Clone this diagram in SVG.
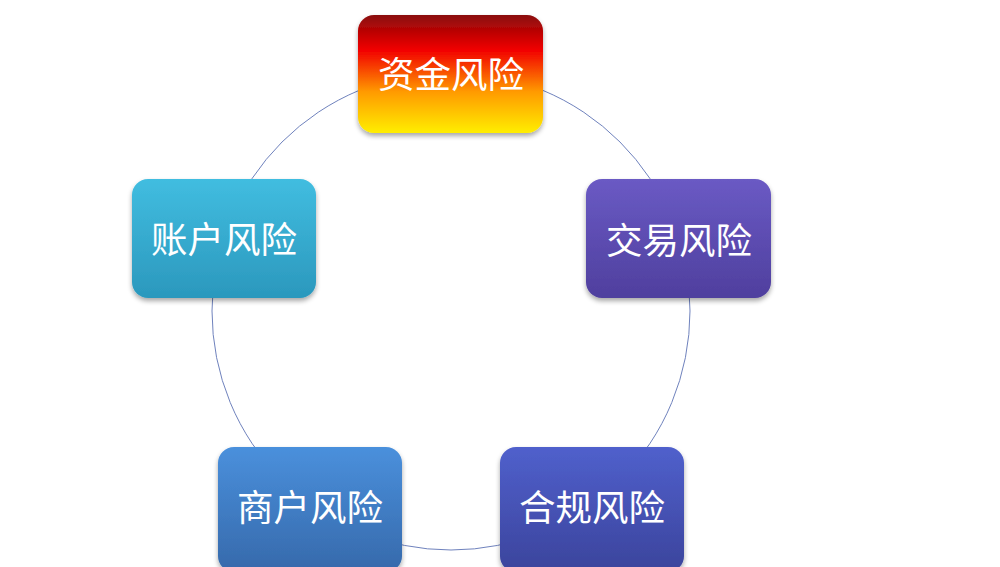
<svg xmlns="http://www.w3.org/2000/svg" width="1000" height="567" viewBox="0 0 1000 567">
<style>
.lbl{font-family:"Noto Sans CJK SC","Noto Sans CJK TC",sans-serif;font-size:36.5px;fill:#ffffff;text-anchor:middle;dominant-baseline:central}
.box{filter:url(#sh)}
</style>
<defs>
<filter id="sh" x="-10%" y="-10%" width="120%" height="130%">
<feGaussianBlur in="SourceAlpha" stdDeviation="2.5"/>
<feOffset dx="0" dy="3" result="b"/>
<feComponentTransfer><feFuncA type="linear" slope="0.35"/></feComponentTransfer>
<feMerge><feMergeNode/><feMergeNode in="SourceGraphic"/></feMerge>
</filter>
<linearGradient id="gTop" x1="0" y1="0" x2="0" y2="1">
<stop offset="0" stop-color="#8a0a0a"/>
<stop offset="0.3" stop-color="#f20000"/>
<stop offset="0.65" stop-color="#ff9a00"/>
<stop offset="1" stop-color="#ffee00"/>
</linearGradient>
<linearGradient id="gAcc" x1="0" y1="0" x2="0" y2="1">
<stop offset="0" stop-color="#41bde0"/>
<stop offset="1" stop-color="#2b98bd"/>
</linearGradient>
<linearGradient id="gTx" x1="0" y1="0" x2="0" y2="1">
<stop offset="0" stop-color="#6a5ac4"/>
<stop offset="1" stop-color="#4f3f9e"/>
</linearGradient>
<linearGradient id="gMer" x1="0" y1="0" x2="0" y2="1">
<stop offset="0" stop-color="#4a90dc"/>
<stop offset="1" stop-color="#3669ab"/>
</linearGradient>
<linearGradient id="gCmp" x1="0" y1="0" x2="0" y2="1">
<stop offset="0" stop-color="#5060cc"/>
<stop offset="1" stop-color="#3b449c"/>
</linearGradient>
</defs>
<rect width="1000" height="567" fill="#ffffff"/>
<g id="connectors">
<circle cx="451" cy="311" r="239" fill="none" stroke="#6f82bd" stroke-width="1"/>
</g>
<g id="node-funds">
<rect class="box" x="358" y="15" width="185" height="118" rx="16" fill="url(#gTop)"/>
<text class="lbl" x="451" y="72">资金风险</text>
</g>
<g id="node-transaction">
<rect class="box" x="586" y="179" width="185" height="119" rx="16" fill="url(#gTx)"/>
<text class="lbl" x="679" y="238">交易风险</text>
</g>
<g id="node-compliance">
<rect class="box" x="500" y="447" width="184" height="125" rx="16" fill="url(#gCmp)"/>
<text class="lbl" x="592" y="505">合规风险</text>
</g>
<g id="node-merchant">
<rect class="box" x="218" y="447" width="184" height="125" rx="16" fill="url(#gMer)"/>
<text class="lbl" x="310" y="505">商户风险</text>
</g>
<g id="node-account">
<rect class="box" x="132" y="179" width="184" height="119" rx="16" fill="url(#gAcc)"/>
<text class="lbl" x="224" y="237">账户风险</text>
</g>
</svg>
